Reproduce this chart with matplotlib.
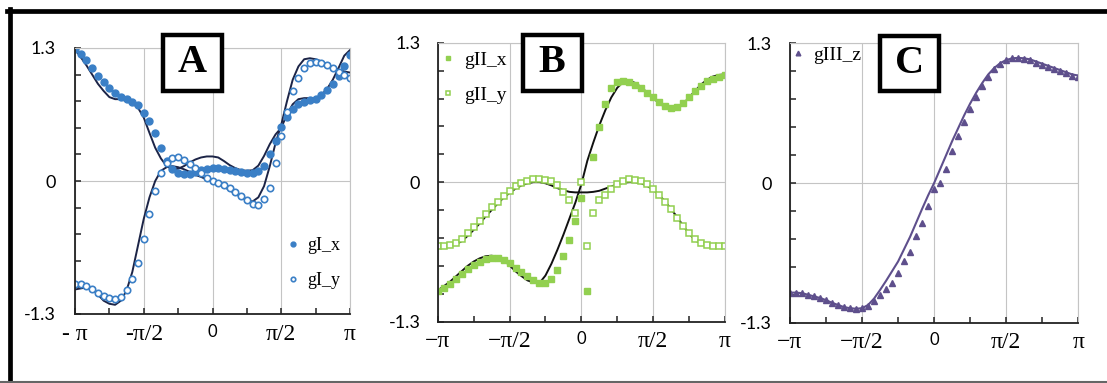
import numpy as np
import matplotlib.pyplot as plt
from matplotlib.patches import Rectangle
from matplotlib.lines import Line2D

plt.rcParams['font.family'] = ['Liberation Serif', 'DejaVu Serif']

# angle grid, pi/24 steps from -pi to pi
x = np.linspace(-np.pi, np.pi, 49)

# panel A
gI_x = [1.29, 1.245, 1.18, 1.105, 1.03, 0.965, 0.91, 0.86, 0.82, 0.80,
        0.77, 0.74, 0.66, 0.585, 0.47, 0.325, 0.195, 0.12, 0.08, 0.065,
        0.07, 0.09, 0.11, 0.12, 0.125, 0.125, 0.12, 0.11, 0.10, 0.09,
        0.075, 0.075, 0.10, 0.15, 0.26, 0.39, 0.53, 0.63, 0.70, 0.75,
        0.77, 0.79, 0.80, 0.84, 0.89, 0.95, 1.03, 1.12, 1.23]
gI_x_fit = [1.29, 1.21, 1.13, 1.04, 0.95, 0.88, 0.82, 0.80, 0.80, 0.78,
            0.76, 0.715, 0.62, 0.47, 0.325, 0.22, 0.145, 0.115, 0.12, 0.145,
            0.18, 0.21, 0.23, 0.24, 0.24, 0.23, 0.195, 0.155, 0.125, 0.105,
            0.10, 0.105, 0.15, 0.245, 0.36, 0.455, 0.52, 0.65, 0.75, 0.80,
            0.81, 0.81, 0.81, 0.84, 0.90, 0.99, 1.105, 1.225, 1.28]
gI_y = [-1.01, -1.01, -1.03, -1.06, -1.09, -1.12, -1.14, -1.15, -1.13, -1.07,
        -0.96, -0.80, -0.57, -0.325, -0.10, 0.08, 0.18, 0.22, 0.23, 0.21,
        0.17, 0.125, 0.075, 0.03, 0.0, -0.015, -0.035, -0.07, -0.11, -0.15,
        -0.19, -0.22, -0.23, -0.18, -0.065, 0.18, 0.44, 0.67, 0.88, 1.01,
        1.105, 1.15, 1.16, 1.155, 1.13, 1.105, 1.07, 1.04, 1.01]
gI_y_fit = [-1.06, -1.05, -1.04, -1.06, -1.11, -1.17, -1.20, -1.21, -1.17, -1.07,
            -0.89, -0.63, -0.37, -0.16, 0.0, 0.10, 0.135, 0.145, 0.135, 0.115,
            0.09, 0.06, 0.04, 0.015, 0.0, -0.025, -0.055, -0.09, -0.125, -0.16,
            -0.19, -0.20, -0.16, -0.05, 0.145, 0.37, 0.55, 0.78, 0.99, 1.12,
            1.19, 1.20, 1.19, 1.17, 1.14, 1.11, 1.09, 1.07, 1.06]

# panel B
gII_x = [-1.01, -0.99, -0.95, -0.905, -0.855, -0.81, -0.77, -0.74, -0.715, -0.705,
         -0.71, -0.725, -0.755, -0.795, -0.835, -0.875, -0.91, -0.935, -0.94, -0.905,
         -0.82, -0.69, -0.54, -0.36, -0.15, -1.01, 0.235, 0.515, 0.73, 0.88,
         0.93, 0.94, 0.935, 0.91, 0.88, 0.835, 0.79, 0.745, 0.71, 0.695,
         0.705, 0.74, 0.795, 0.85, 0.90, 0.94, 0.965, 0.985, 1.0]
gII_x_fit = [-1.01, -0.97, -0.93, -0.88, -0.83, -0.78, -0.74, -0.71, -0.69, -0.685,
             -0.695, -0.725, -0.775, -0.83, -0.875, -0.915, -0.935, -0.94, -0.87, -0.76,
             -0.63, -0.49, -0.34, -0.19, -0.02, 0.20, 0.37, 0.53, 0.67, 0.79,
             0.88, 0.935, 0.945, 0.925, 0.885, 0.835, 0.785, 0.735, 0.70, 0.685,
             0.695, 0.73, 0.79, 0.85, 0.91, 0.955, 0.985, 1.0, 1.005]
gII_y = [-0.59, -0.59, -0.585, -0.565, -0.53, -0.475, -0.42, -0.36, -0.295, -0.235,
         -0.18, -0.125, -0.08, -0.035, -0.005, 0.015, 0.03, 0.03, 0.025, 0.01,
         -0.03, -0.095, -0.165, -0.29, 0.0, -0.59, -0.29, -0.165, -0.115, -0.06,
         -0.02, 0.015, 0.03, 0.025, 0.015, -0.015, -0.06, -0.115, -0.18, -0.25,
         -0.33, -0.405, -0.475, -0.53, -0.565, -0.585, -0.59, -0.59, -0.59]
gII_y_fit = [-0.60, -0.60, -0.595, -0.58, -0.55, -0.50, -0.445, -0.385, -0.32, -0.26,
             -0.20, -0.145, -0.10, -0.06, -0.03, -0.01, 0.0, 0.0, -0.01, -0.03,
             -0.055, -0.075, -0.09, -0.095, -0.095, -0.095, -0.09, -0.08, -0.06, -0.04,
             -0.02, -0.005, 0.0, 0.0, -0.01, -0.035, -0.07, -0.12, -0.18, -0.25,
             -0.325, -0.405, -0.48, -0.54, -0.575, -0.59, -0.595, -0.60, -0.60]

# panel C
gIII_z = [-1.02, -1.02, -1.025, -1.04, -1.055, -1.07, -1.09, -1.115, -1.135, -1.15,
          -1.16, -1.17, -1.165, -1.14, -1.10, -1.04, -0.985, -0.93, -0.84, -0.73,
          -0.64, -0.49, -0.37, -0.21, -0.06, 0.0, 0.13, 0.30, 0.44, 0.565,
          0.69, 0.80, 0.905, 0.99, 1.06, 1.11, 1.14, 1.16, 1.165, 1.155,
          1.14, 1.12, 1.10, 1.08, 1.06, 1.04, 1.02, 1.0, 0.99]
gIII_z_fit = [-1.02, -1.02, -1.025, -1.04, -1.055, -1.07, -1.09, -1.115, -1.135, -1.155,
              -1.165, -1.17, -1.165, -1.135, -1.075, -0.995, -0.91, -0.82, -0.73, -0.615,
              -0.50, -0.37, -0.24, -0.115, 0.0, 0.13, 0.26, 0.39, 0.51, 0.63,
              0.74, 0.84, 0.93, 1.01, 1.07, 1.115, 1.145, 1.16, 1.165, 1.16,
              1.15, 1.13, 1.11, 1.09, 1.07, 1.05, 1.03, 1.01, 1.0]

W, H = 1107, 383
fig = plt.figure(figsize=(W / 100, H / 100), dpi=100)


def px_axes(l, t, r, b):
    return fig.add_axes([l / W, 1 - b / H, (r - l) / W, (b - t) / H])


def style(ax, xlabels, ypad):
    ax.set_xlim(-np.pi, np.pi)
    ax.set_ylim(-1.3, 1.3)
    ax.set_xticks([-np.pi, -np.pi / 2, 0, np.pi / 2, np.pi])
    ax.set_xticks([-3 * np.pi / 4, -np.pi / 4, np.pi / 4, 3 * np.pi / 4], minor=True)
    ax.set_xticklabels(xlabels)
    for lab in ax.get_xticklabels():
        if lab.get_text() == '0':
            lab.set_fontsize(12)
            lab.set_family(['Lato', 'DejaVu Sans'])
        else:
            lab.set_fontsize(17)
    ax.set_yticks([-1.3, 0, 1.3])
    ax.set_yticks([-1.04, -0.78, -0.52, -0.26, 0.26, 0.52, 0.78, 1.04], minor=True)
    ax.set_yticklabels(['-1.3', '0', '1.3'], family=['Lato', 'DejaVu Sans'], fontsize=13)
    ax.tick_params(which='both', direction='in', length=4, width=1.1, color='#222')
    ax.tick_params(axis='y', pad=ypad)
    ax.tick_params(axis='x', pad=7)
    ax.grid(True, which='major', color='#c4c4c4', lw=0.8)
    ax.set_axisbelow(True)
    for s in ['left', 'bottom']:
        ax.spines[s].set_color('#222')
        ax.spines[s].set_linewidth(1.3)
    for s in ['top', 'right']:
        ax.spines[s].set_color('#c4c4c4')
        ax.spines[s].set_linewidth(0.8)


def tag(letter, l, t, r, b):
    fig.add_artist(Rectangle((l / W, 1 - b / H), (r - l) / W, (b - t) / H,
                             transform=fig.transFigure, fill=True, fc='white',
                             ec='black', lw=3.2, zorder=10))
    fig.text((l + r) / 2 / W, 1 - (t + b) / 2 / H, letter, ha='center', va='center',
             fontsize=29, fontweight='bold', zorder=11)


blue = '#3a7fc6'
navy = '#1c2447'
green = '#92d050'
purple = '#5e4f8c'

# panel A
axA = px_axes(75, 48, 350, 314)
axA.plot(x, gI_x_fit, color=navy, lw=1.4)
axA.plot(x, gI_y_fit, color=navy, lw=1.4)
hA1, = axA.plot(x, gI_x, 'o', color=blue, ms=5.0, mec=blue)
hA2, = axA.plot(x, gI_y, 'o', color=blue, ms=4.6, mfc='white', mec=blue, mew=1.2)
style(axA, ['- \u03c0', '-\u03c0/2', '0', '\u03c0/2', '\u03c0'], 14)
axA.legend([hA1, hA2], ['gI_x', 'gI_y'], loc='upper left', bbox_to_anchor=(0.765, 0.29),
           frameon=False, fontsize=13, handlelength=0.8, handletextpad=0.4,
           labelspacing=1.0, markerscale=0.7, borderpad=0, borderaxespad=0)

# panel B
axB = px_axes(437.7, 42.7, 725, 321.7)
axB.plot(x, gII_x_fit, color='#111111', lw=1.4)
axB.plot(x, gII_y_fit, color='#111111', lw=1.4)
hB1, = axB.plot(x, gII_x, 's', color=green, ms=4.2, mec=green)
hB2, = axB.plot(x, gII_y, 's', color=green, ms=4.0, mfc='white', mec=green, mew=1.1)
style(axB, ['\u2212\u03c0', '\u2212\u03c0/2', '0', '\u03c0/2', '\u03c0'], 12.5)
axB.legend([hB1, hB2], ['gII_x', 'gII_y'], loc='upper left', bbox_to_anchor=(0.01, 0.97),
           frameon=False, fontsize=14, handlelength=0.8, handletextpad=0.4,
           labelspacing=0.9, markerscale=0.7, borderpad=0, borderaxespad=0)

# panel C
axC = px_axes(790, 43.3, 1078.3, 322.7)
axC.plot(x, gIII_z_fit, color=purple, lw=1.5)
hC1, = axC.plot(x, gIII_z, '^', color=purple, ms=4.8, mec=purple)
style(axC, ['\u2212\u03c0', '\u2212\u03c0/2', '0', '\u03c0/2', '\u03c0'], 13)
axC.legend([hC1], ['gIII_z'], loc='upper left', bbox_to_anchor=(0.0, 0.99),
           frameon=False, fontsize=14, handlelength=0.8, handletextpad=0.4,
           markerscale=0.7, borderpad=0, borderaxespad=0)

# panel letters
tag('A', 163, 35, 222, 91)
tag('B', 522.7, 35, 581.7, 90.7)
tag('C', 880, 36, 939.3, 90.7)

# outer frame
fig.add_artist(Line2D([7 / W, 1], [1 - 10.5 / H, 1 - 10.5 / H], color='black', lw=3.4,
                      transform=fig.transFigure))
fig.add_artist(Line2D([9.5 / W, 9.5 / W], [0, 1 - 9 / H], color='black', lw=3.4,
                      transform=fig.transFigure))
fig.add_artist(Line2D([0, 1], [1.5 / H, 1.5 / H], color='#666666', lw=1.5,
                      transform=fig.transFigure))

fig.savefig('out.png', dpi=100)
